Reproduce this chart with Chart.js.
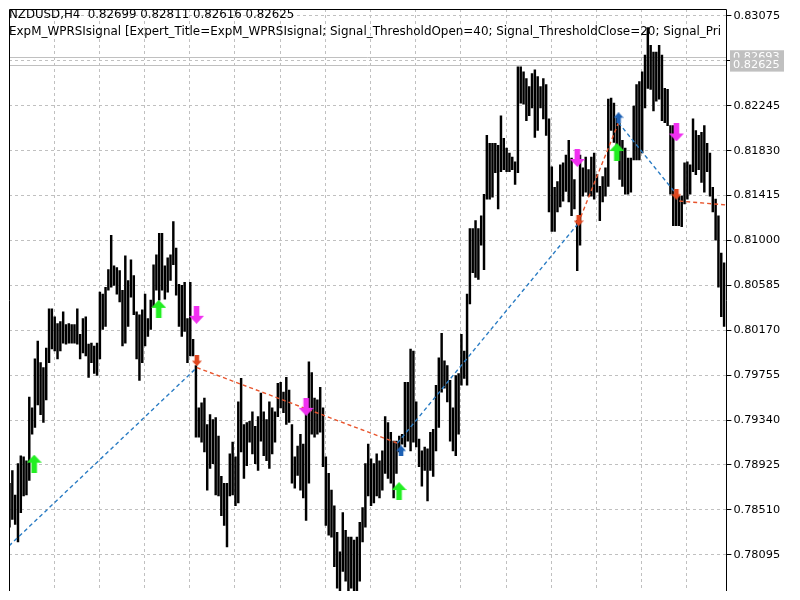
<!DOCTYPE html>
<html>
<head>
<meta charset="utf-8">
<title>NZDUSD,H4</title>
<script src="https://cdn.jsdelivr.net/npm/chart.js@4.4.0/dist/chart.umd.min.js"></script>
<style>
    html, body { margin: 0; padding: 0; background: #fff; }
    canvas { display: block; }
</style>
</head>
<body>
<canvas id="grafico" width="800" height="600"></canvas>
<script>
// Máximos y mínimos de cada barra H4 (de izquierda a derecha)
var preciosMax = [
    0.78756, 0.78874, 0.78647, 0.78937, 0.79010, 0.79001, 0.78964, 0.79553, 0.79453, 0.79906, 0.80069, 0.79870, 0.79825, 0.80006, 0.80368, 0.80368,
    0.80295, 0.80232, 0.80250, 0.80341, 0.80223, 0.80232, 0.80223, 0.80223, 0.80368, 0.80132, 0.80277, 0.80295, 0.80042, 0.80051, 0.80024, 0.80051,
    0.80522, 0.80504, 0.80567, 0.80730, 0.81047, 0.80766, 0.80748, 0.80721, 0.80540, 0.80857, 0.80630, 0.80821, 0.80676, 0.80341, 0.80313, 0.80359,
    0.80504, 0.80277, 0.80449, 0.80775, 0.80866, 0.81065, 0.81065, 0.80766, 0.80839, 0.80866, 0.81174, 0.80929, 0.80594, 0.80585, 0.80612, 0.80277,
    0.80612, 0.80087, 0.79843, 0.79453, 0.79499, 0.79544, 0.79299, 0.79390, 0.79345, 0.79363, 0.79191, 0.78819, 0.78756, 0.78756, 0.79028, 0.79136,
    0.79001, 0.79508, 0.79725, 0.79299, 0.79317, 0.79327, 0.79417, 0.79281, 0.79372, 0.79589, 0.79417, 0.79345, 0.79508, 0.79453, 0.79417, 0.79680,
    0.79689, 0.79598, 0.79734, 0.79616, 0.79299, 0.79001, 0.79100, 0.79209, 0.79118, 0.79453, 0.79879, 0.79779, 0.79544, 0.79526, 0.79643, 0.79453,
    0.79001, 0.78847, 0.78693, 0.78548, 0.78303, 0.78122, 0.78484, 0.78321, 0.78258, 0.78258, 0.78231, 0.78258, 0.78394, 0.78530, 0.78937, 0.79118,
    0.78982, 0.78937, 0.79028, 0.78964, 0.79055, 0.79372, 0.79317, 0.79227, 0.79145, 0.79145, 0.79191, 0.79209, 0.79689, 0.79689, 0.79997, 0.79978,
    0.79508, 0.79163, 0.79055, 0.79091, 0.79073, 0.79227, 0.79254, 0.79662, 0.79915, 0.80141, 0.79888, 0.79843, 0.79707, 0.79453, 0.79752, 0.79770,
    0.80132, 0.79978, 0.80504, 0.81110, 0.81110, 0.81183, 0.81110, 0.81228, 0.81427, 0.81971, 0.81898, 0.81898, 0.81898, 0.81880, 0.82152, 0.81943,
    0.81853, 0.81808, 0.81771, 0.81726, 0.82604, 0.82604, 0.82559, 0.82496, 0.82423, 0.82541, 0.82577, 0.82514, 0.82423, 0.82496, 0.82441, 0.82124,
    0.81681, 0.81491, 0.81545, 0.81699, 0.81717, 0.81789, 0.81925, 0.81762, 0.81563, 0.81183, 0.81789, 0.81672, 0.81771, 0.81654, 0.81771, 0.81808,
    0.81608, 0.81500, 0.81590, 0.81672, 0.82306, 0.82315, 0.82269, 0.82134, 0.82079, 0.81925, 0.81853, 0.81762, 0.81762, 0.82242, 0.82441, 0.82469,
    0.82559, 0.82713, 0.82967, 0.82804, 0.82740, 0.82740, 0.82804, 0.82713, 0.82405, 0.82396, 0.82061, 0.82061, 0.81427, 0.81409, 0.81409, 0.81717,
    0.81726, 0.81699, 0.82124, 0.82016, 0.81971, 0.81998, 0.82061, 0.81898, 0.81808, 0.81491, 0.81382, 0.81228, 0.80884, 0.80793
];
var preciosMin = [
    0.78349, 0.78421, 0.78376, 0.78213, 0.78484, 0.78638, 0.78647, 0.78783, 0.79209, 0.79272, 0.79480, 0.79390, 0.79317, 0.79526, 0.79870, 0.79997,
    0.79978, 0.79906, 0.79978, 0.80051, 0.80042, 0.80051, 0.80051, 0.80051, 0.80042, 0.79906, 0.79960, 0.79933, 0.79734, 0.79870, 0.79770, 0.79752,
    0.79906, 0.80178, 0.80205, 0.80540, 0.80567, 0.80585, 0.80504, 0.80431, 0.80024, 0.80051, 0.80205, 0.80476, 0.80313, 0.79906, 0.79707, 0.79870,
    0.80024, 0.80114, 0.80178, 0.80386, 0.80540, 0.80449, 0.80540, 0.80458, 0.80522, 0.80630, 0.80775, 0.80495, 0.80205, 0.80114, 0.80160, 0.79870,
    0.79933, 0.79933, 0.79182, 0.79182, 0.79136, 0.79046, 0.78693, 0.78892, 0.78937, 0.78647, 0.78638, 0.78457, 0.78367, 0.78167, 0.78638, 0.78647,
    0.78548, 0.78575, 0.79046, 0.78801, 0.78919, 0.79136, 0.79028, 0.78937, 0.78874, 0.79145, 0.79010, 0.78964, 0.78892, 0.79028, 0.79136, 0.79372,
    0.79453, 0.79408, 0.79299, 0.79317, 0.78756, 0.78711, 0.78828, 0.78693, 0.78620, 0.78412, 0.78756, 0.79209, 0.79182, 0.79209, 0.79227, 0.78910,
    0.78367, 0.78276, 0.78258, 0.77986, 0.77787, 0.77715, 0.77941, 0.77850, 0.77715, 0.77787, 0.77715, 0.77715, 0.77850, 0.78213, 0.78349, 0.78638,
    0.78548, 0.78575, 0.78638, 0.78620, 0.78693, 0.78847, 0.78801, 0.78756, 0.78620, 0.78847, 0.79046, 0.79118, 0.79091, 0.79145, 0.79055, 0.79136,
    0.79091, 0.78910, 0.78729, 0.78874, 0.78593, 0.78874, 0.78819, 0.79055, 0.79272, 0.79598, 0.79634, 0.79508, 0.79145, 0.79055, 0.79010, 0.79209,
    0.79662, 0.79725, 0.79662, 0.80413, 0.80703, 0.80658, 0.80639, 0.80956, 0.80730, 0.81382, 0.81382, 0.81400, 0.81626, 0.81291, 0.81636, 0.81654,
    0.81636, 0.81636, 0.81654, 0.81518, 0.81626, 0.82269, 0.82260, 0.82106, 0.82152, 0.82224, 0.81952, 0.82016, 0.82224, 0.82124, 0.81971, 0.81264,
    0.81083, 0.81083, 0.81264, 0.81310, 0.81364, 0.81454, 0.81355, 0.81228, 0.81291, 0.80721, 0.80956, 0.81409, 0.81445, 0.81409, 0.81409, 0.81382,
    0.81445, 0.81183, 0.81355, 0.81409, 0.81500, 0.82016, 0.81907, 0.81789, 0.81563, 0.81500, 0.81427, 0.81427, 0.81445, 0.81744, 0.81744, 0.81744,
    0.81808, 0.82224, 0.82405, 0.82396, 0.82197, 0.82287, 0.82306, 0.82106, 0.82088, 0.82061, 0.81427, 0.81137, 0.81137, 0.81137, 0.81128, 0.81337,
    0.81382, 0.81427, 0.81636, 0.81608, 0.81654, 0.81536, 0.81445, 0.81636, 0.81409, 0.81264, 0.81002, 0.80567, 0.80295, 0.80205
];

// Niveles de la escala de precios
var ticksPrecio = [0.83075, 0.82660, 0.82245, 0.81830, 0.81415, 0.81000, 0.80585, 0.80170, 0.79755, 0.79340, 0.78925, 0.78510, 0.78095];
var precioAsk = 0.82693;
var precioBid = 0.82625;

// Flechas de señal (índice de barra y precio)
var compraIdx = [8.4, 52.5, 137.6, 214.7];
var compraPrecio = [0.78937, 0.80368, 0.78684, 0.81817];
var ventaIdx = [65.9, 104.7, 200.7, 235.8];
var ventaPrecio = [0.80313, 0.79462, 0.81762, 0.81998];

// Tramos de operaciones: [idx inicio, precio inicio, idx fin, precio fin]
var tramosCompra = [
    [-0.5, 0.78177, 66, 0.79825],
    [137, 0.79127, 201, 0.81156],
    [215.3, 0.82088, 235.8, 0.81427]
];
var tramosVenta = [
    [66, 0.79825, 137, 0.79127],
    [201, 0.81156, 215.3, 0.82088],
    [236.8, 0.81364, 253.5, 0.81328]
];

// Marcas de apertura / cierre
var marcaAzulIdx = [138.3, 215.3];
var marcaAzulPrecio = [0.79055, 0.82134];
var marcaRojaIdx = [66, 201.2, 235.8];
var marcaRojaPrecio = [0.79888, 0.81183, 0.81427];

var tituloLinea1 = 'NZDUSD,H4  0.82699 0.82811 0.82616 0.82625';
var tituloLinea2 = 'ExpM_WPRSIsignal [Expert_Title=ExpM_WPRSIsignal; Signal_ThresholdOpen=40; Signal_ThresholdClose=20; Signal_Pri';

var FUENTE = 'DejaVu Sans';

// Dibuja una flecha gruesa (estilo Wingdings) en un canvas pequeño
function crearFlecha(color, arriba) {
    var c = document.createElement('canvas');
    c.width = 15;
    c.height = 18;
    var g = c.getContext('2d');
    if (!arriba) {
        g.translate(0, 18);
        g.scale(1, -1);
    }
    g.fillStyle = color;
    g.beginPath();
    g.moveTo(7.5, 0);
    g.lineTo(15, 8);
    g.lineTo(10.3, 8);
    g.lineTo(10.3, 18);
    g.lineTo(4.7, 18);
    g.lineTo(4.7, 8);
    g.lineTo(0, 8);
    g.closePath();
    g.fill();
    return c;
}

// Marca pequeña de operación
function crearMarca(color, arriba) {
    var c = document.createElement('canvas');
    c.width = 10;
    c.height = 11;
    var g = c.getContext('2d');
    if (!arriba) {
        g.translate(0, 11);
        g.scale(1, -1);
    }
    g.fillStyle = color;
    g.beginPath();
    g.moveTo(5, 0);
    g.lineTo(10, 5.5);
    g.lineTo(7.3, 5.5);
    g.lineTo(7.3, 11);
    g.lineTo(2.7, 11);
    g.lineTo(2.7, 5.5);
    g.lineTo(0, 5.5);
    g.closePath();
    g.fill();
    return c;
}

function puntos(idx, precios) {
    return idx.map(function (x, i) { return { x: x, y: precios[i] }; });
}

function tramo(t, color) {
    return {
        type: 'line',
        data: [{ x: t[0], y: t[1] }, { x: t[2], y: t[3] }],
        xAxisID: 'xo',
        yAxisID: 'y',
        borderColor: color,
        borderWidth: 1.4,
        borderDash: [4, 3],
        pointRadius: 0,
        fill: false,
        order: 1
    };
}

var etiquetas = preciosMax.map(function (v, i) { return String(i); });
var barras = preciosMin.map(function (lo, i) { return [lo, preciosMax[i]]; });

var datasets = [{
    type: 'bar',
    data: barras,
    backgroundColor: '#000',
    barThickness: 1.8,
    xAxisID: 'x',
    yAxisID: 'y',
    order: 3
}];

tramosCompra.forEach(function (t) { datasets.push(tramo(t, '#2a7cc4')); });
tramosVenta.forEach(function (t) { datasets.push(tramo(t, '#e8542c')); });

datasets.push({
    type: 'line', showLine: false, xAxisID: 'xo', yAxisID: 'y', order: 0,
    data: puntos(marcaAzulIdx, marcaAzulPrecio),
    pointStyle: crearMarca('#1c60b4', true), pointRadius: 5
});
datasets.push({
    type: 'line', showLine: false, xAxisID: 'xo', yAxisID: 'y', order: 0,
    data: puntos(marcaRojaIdx, marcaRojaPrecio),
    pointStyle: crearMarca('#e0461e', false), pointRadius: 5
});
datasets.push({
    type: 'line', showLine: false, xAxisID: 'xo', yAxisID: 'y', order: 0,
    data: puntos(compraIdx, compraPrecio),
    pointStyle: crearFlecha('#22ee22', true), pointRadius: 8
});
datasets.push({
    type: 'line', showLine: false, xAxisID: 'xo', yAxisID: 'y', order: 0,
    data: puntos(ventaIdx, ventaPrecio),
    pointStyle: crearFlecha('#f030f0', false), pointRadius: 8
});

// Textos, líneas de precio, marco y etiquetas de Bid/Ask
var decoracion = {
    id: 'decoracion',
    beforeDatasetsDraw: function (chart) {
        var ctx = chart.ctx;
        var area = chart.chartArea;
        var y = chart.scales.y;
        ctx.save();
        ctx.strokeStyle = '#c0c0c0';
        ctx.lineWidth = 1;
        [precioAsk, precioBid].forEach(function (p) {
            var py = Math.round(y.getPixelForValue(p)) + 0.5;
            ctx.beginPath();
            ctx.moveTo(area.left, py);
            ctx.lineTo(area.right, py);
            ctx.stroke();
        });
        ctx.beginPath();
        ctx.rect(area.left, area.top, area.right - area.left - 3, area.bottom - area.top);
        ctx.clip();
        ctx.fillStyle = '#000';
        ctx.font = '11.8px "' + FUENTE + '"';
        ctx.textBaseline = 'middle';
        ctx.fillText(tituloLinea1, 9, 15);
        // la segunda línea se estira un poco para ocupar el mismo ancho
        var ancho = ctx.measureText(tituloLinea2).width;
        ctx.translate(9, 31.5);
        ctx.scale(712 / ancho, 1);
        ctx.fillText(tituloLinea2, 0, 0);
        ctx.restore();
    },
    afterDraw: function (chart) {
        var ctx = chart.ctx;
        var area = chart.chartArea;
        var y = chart.scales.y;
        ctx.save();
        ctx.strokeStyle = '#000';
        ctx.lineWidth = 1;
        ctx.beginPath();
        ctx.moveTo(area.left + 0.5, area.bottom);
        ctx.lineTo(area.left + 0.5, area.top + 0.5);
        ctx.lineTo(Math.round(area.right) + 0.5, area.top + 0.5);
        ctx.lineTo(Math.round(area.right) + 0.5, area.bottom);
        ctx.stroke();
        // etiquetas grises de precio actual
        ctx.font = '11.3px "' + FUENTE + '"';
        ctx.textBaseline = 'middle';
        [precioAsk, precioBid].forEach(function (p) {
            var py = y.getPixelForValue(p);
            ctx.fillStyle = '#c0c0c0';
            ctx.fillRect(730, py - 7, 54, 14);
            ctx.fillStyle = '#fff';
            ctx.fillText(p.toFixed(5), 733, py);
        });
        ctx.restore();
    }
};

var grafico = new Chart(document.getElementById('grafico').getContext('2d'), {
    type: 'bar',
    data: { labels: etiquetas, datasets: datasets },
    options: {
        responsive: false,
        animation: false,
        events: [],
        layout: { padding: { left: 4, top: 6, right: 0, bottom: 0 } },
        plugins: { legend: { display: false }, tooltip: { enabled: false } },
        scales: {
            x: {
                type: 'category',
                offset: true,
                ticks: { display: false, autoSkip: false },
                grid: {
                    offset: true,
                    drawTicks: false,
                    color: function (c) {
                        return (c.index > 0 && c.index % 16 === 0) ? '#c0c0c0' : 'rgba(0,0,0,0)';
                    }
                },
                border: { display: false, dash: [3, 3] },
                afterFit: function (s) { s.height = 0; }
            },
            xo: {
                type: 'linear',
                display: false,
                offset: false,
                min: -0.5,
                max: preciosMax.length - 0.5
            },
            y: {
                type: 'linear',
                position: 'right',
                min: 0.77760,
                max: 0.83139,
                afterBuildTicks: function (s) {
                    s.ticks = ticksPrecio.map(function (v) { return { value: v }; });
                },
                ticks: {
                    color: '#000',
                    padding: 2,
                    font: { family: FUENTE, size: 11.3 },
                    callback: function (v) { return v.toFixed(5); }
                },
                grid: {
                    color: '#c0c0c0',
                    tickColor: '#000',
                    tickLength: 5,
                    tickBorderDash: [],
                    drawTicks: true
                },
                border: { display: false, dash: [3, 3] },
                afterFit: function (s) { s.width = 73.6; }
            }
        }
    },
    plugins: [decoracion]
});
</script>
</body>
</html>
